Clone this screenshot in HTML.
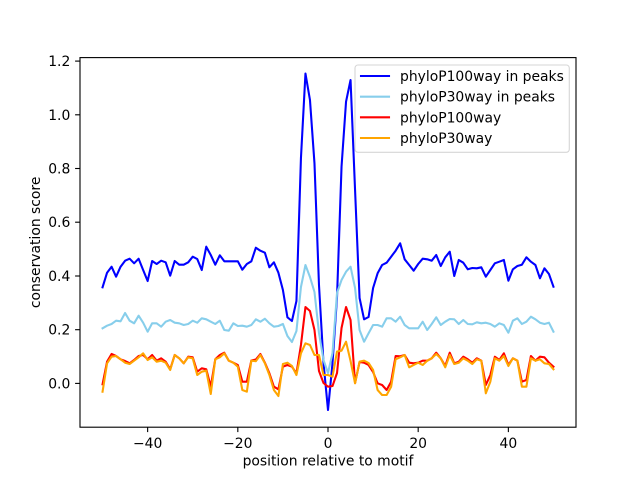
<!DOCTYPE html>
<html>
<head>
<meta charset="utf-8">
<style>
html,body{margin:0;padding:0;background:#fff;}
svg{display:block;}
text{font-family:"DejaVu Sans","Liberation Sans",sans-serif;font-size:13.9px;fill:#000;}
</style>
</head>
<body>
<svg width="640" height="480" viewBox="0 0 640 480" xmlns="http://www.w3.org/2000/svg">
<rect x="0" y="0" width="640" height="480" fill="#fff"/>
<g transform="translate(102.55 0) scale(4.5091 1)" fill="none" stroke-linejoin="round" stroke-linecap="square">
<polyline vector-effect="non-scaling-stroke" stroke="#0000ff" stroke-width="2.08" points="0,287.3 1,272.7 2,266.7 3,276.7 4,266.7 5,260.7 6,258.7 7,263.3 8,258.7 9,270 10,281 11,261 12,264 13,260.7 14,262.3 15,275.7 16,261 17,264.7 18,264.7 19,262.3 20,256.7 21,259 22,270 23,246.7 24,255 25,264.7 26,255.3 27,261.3 28,261.3 29,261.3 30,261.3 31,269.7 32,264 33,261.3 34,247.7 35,250.7 36,252.7 37,267.3 38,262.3 39,272.7 40,290 41,317.3 42,321 43,301 44,158 45,73.5 46,100 47,163.3 48,285 49,363 50,410 51,363 52,297 53,166.7 54,101.7 55,80 56,190 57,298 58,319.3 59,317 60,288 61,273.3 62,265 63,262.7 64,256.7 65,250.7 66,243.3 67,259.3 68,265 69,270.7 70,264 71,258.7 72,259.3 73,260.7 74,255 75,266 76,257.3 77,251.7 78,276 79,260 80,262.7 81,269.3 82,268 83,268.3 84,267.3 85,276.7 86,270 87,263.3 88,261.7 89,260 90,280.7 91,269.3 92,266 93,264.7 94,257.3 95,261.7 96,265 97,278.3 98,268.3 99,274 100,286.7"/>
<polyline vector-effect="non-scaling-stroke" stroke="#87ceeb" stroke-width="2.08" points="0,328.3 1,325.7 2,324 3,320.7 4,321.3 5,313 6,320.7 7,323.3 8,315.7 9,322.7 10,331.7 11,323.3 12,323.3 13,326.7 14,321.7 15,320 16,322.7 17,323.3 18,325 19,324 20,320.7 21,322.7 22,318.3 23,319.3 24,321.7 25,324 26,320.7 27,330 28,330.7 29,323.3 30,326 31,325.7 32,326.7 33,325 34,319.3 35,321.7 36,318.7 37,323.3 38,326.7 39,326 40,324 41,336 42,342 43,331 44,287 45,265 46,277 47,292 48,333 49,360 50,373 51,353 52,293 53,280 54,271.7 55,266.7 56,288 57,330 58,341.7 59,333.3 60,325 61,325 62,326.7 63,318.3 64,318.3 65,321.7 66,316.7 67,325 68,328.3 69,328.3 70,328.3 71,321.7 72,330 73,324 74,317.3 75,325 76,321.7 77,319 78,319.3 79,324 80,320 81,324 82,324.3 83,322.3 84,323.3 85,322.7 86,324 87,326.7 88,323.3 89,325 90,332.7 91,320.7 92,318.3 93,324 94,321.7 95,316.7 96,319.3 97,322.7 98,324 99,322.7 100,331.7"/>
<polyline vector-effect="non-scaling-stroke" stroke="#ff0000" stroke-width="2.08" points="0,384.3 1,361.7 2,354 3,356 4,359.3 5,361 6,363.3 7,360 8,356 9,355 10,359.3 11,355 12,360.7 13,358.3 14,361.7 15,369.3 16,355 17,358.3 18,363.3 19,356.7 20,357.3 21,371.7 22,368.3 23,369.3 24,386.7 25,359.3 26,355 27,352.7 28,360.7 29,362.7 30,365 31,381.7 32,381.7 33,360.5 34,359.5 35,354 36,362.7 37,373.3 38,386.7 39,389.3 40,366.7 41,365 42,366.7 43,373.3 44,345 45,307 46,311 47,330 48,371 49,383 50,386.7 51,386 52,373 53,328 54,307 55,320 56,383 57,362 58,362.7 59,365 60,372 61,383.3 62,385 63,390 64,381.7 65,356 66,356.3 67,355 68,362.7 69,363.3 70,362.7 71,360.7 72,360.7 73,358.3 74,352.7 75,358.3 76,366 77,352.7 78,363.3 79,361.7 80,356.7 81,359.3 82,362.7 83,358.3 84,360.7 85,385 86,375 87,356.7 88,360 89,353.3 90,365 91,358.3 92,360.7 93,381.7 94,380 95,356 96,360.7 97,356.7 98,357.3 99,362.7 100,366.7"/>
<polyline vector-effect="non-scaling-stroke" stroke="#ffa500" stroke-width="2.08" points="0,391.7 1,363.3 2,356.7 3,356 4,359.3 5,362.7 6,364 7,360.7 8,357.3 9,353.3 10,360 11,357.3 12,361.7 13,360.7 14,362.7 15,370 16,355 17,358.3 18,363.3 19,357.3 20,358.3 21,375 22,371.7 23,370.7 24,394 25,359.3 26,357.3 27,353.3 28,360.7 29,362.7 30,366.7 31,390 32,391.7 33,360.7 34,361.2 35,355 36,363.3 37,375 38,390 39,396 40,364 41,362.7 42,366 43,375 44,353.3 45,343.3 46,345 47,355 48,355 49,375 50,375 51,376.7 52,351.5 53,350.7 54,341.7 55,361 56,383.3 57,361.7 58,360.7 59,363 60,370 61,390 62,395 63,395 64,386.7 65,359.3 66,357.3 67,355 68,367.3 69,365 70,362.7 71,365 72,360.7 73,358.3 74,354 75,358.3 76,367.3 77,355 78,364 79,362.7 80,358.3 81,360.7 82,364 83,359.3 84,360.7 85,393.3 86,381.7 87,358.3 88,360.7 89,356 90,366 91,358.3 92,360.7 93,386.7 94,386.7 95,358.3 96,360.7 97,359.3 98,363.3 99,364 100,369.3"/>
</g>
<!-- axes frame -->
<rect x="80" y="57.6" width="496" height="369.6" fill="none" stroke="#000" stroke-width="1.11"/>
<!-- x ticks -->
<g stroke="#000" stroke-width="1.11">
<line x1="147.64" y1="427.2" x2="147.64" y2="432.1"/>
<line x1="237.82" y1="427.2" x2="237.82" y2="432.1"/>
<line x1="328.0" y1="427.2" x2="328.0" y2="432.1"/>
<line x1="418.18" y1="427.2" x2="418.18" y2="432.1"/>
<line x1="508.36" y1="427.2" x2="508.36" y2="432.1"/>
</g>
<g text-anchor="middle">
<text x="147.64" y="448">−40</text>
<text x="237.82" y="448">−20</text>
<text x="328.0" y="448">0</text>
<text x="418.18" y="448">20</text>
<text x="508.36" y="448">40</text>
<text x="328" y="465.5">position relative to motif</text>
</g>
<!-- y ticks -->
<g stroke="#000" stroke-width="1.11">
<line x1="75.1" y1="383.4" x2="80" y2="383.4"/>
<line x1="75.1" y1="329.7" x2="80" y2="329.7"/>
<line x1="75.1" y1="276.0" x2="80" y2="276.0"/>
<line x1="75.1" y1="222.2" x2="80" y2="222.2"/>
<line x1="75.1" y1="168.5" x2="80" y2="168.5"/>
<line x1="75.1" y1="114.8" x2="80" y2="114.8"/>
<line x1="75.1" y1="61.1" x2="80" y2="61.1"/>
</g>
<g text-anchor="end">
<text x="70.3" y="388.4">0.0</text>
<text x="70.3" y="334.7">0.2</text>
<text x="70.3" y="281.0">0.4</text>
<text x="70.3" y="227.2">0.6</text>
<text x="70.3" y="173.5">0.8</text>
<text x="70.3" y="119.8">1.0</text>
<text x="70.3" y="66.1">1.2</text>
</g>
<text transform="translate(40 242.4) rotate(-90)" text-anchor="middle">conservation score</text>
<!-- legend -->
<rect x="355" y="65" width="214.3" height="87.3" rx="3" ry="3" fill="#fff" fill-opacity="0.8" stroke="#d6d6d6" stroke-width="1.11"/>
<g stroke-width="2.08" stroke-linecap="square">
<line x1="361" y1="76" x2="389" y2="76" stroke="#0000ff"/>
<line x1="361" y1="96.7" x2="389" y2="96.7" stroke="#87ceeb"/>
<line x1="361" y1="117.3" x2="389" y2="117.3" stroke="#ff0000"/>
<line x1="361" y1="138" x2="389" y2="138" stroke="#ffa500"/>
</g>
<text x="400" y="81">phyloP100way in peaks</text>
<text x="400" y="101.7">phyloP30way in peaks</text>
<text x="400" y="122.3">phyloP100way</text>
<text x="400" y="143">phyloP30way</text>
</svg>
</body>
</html>
